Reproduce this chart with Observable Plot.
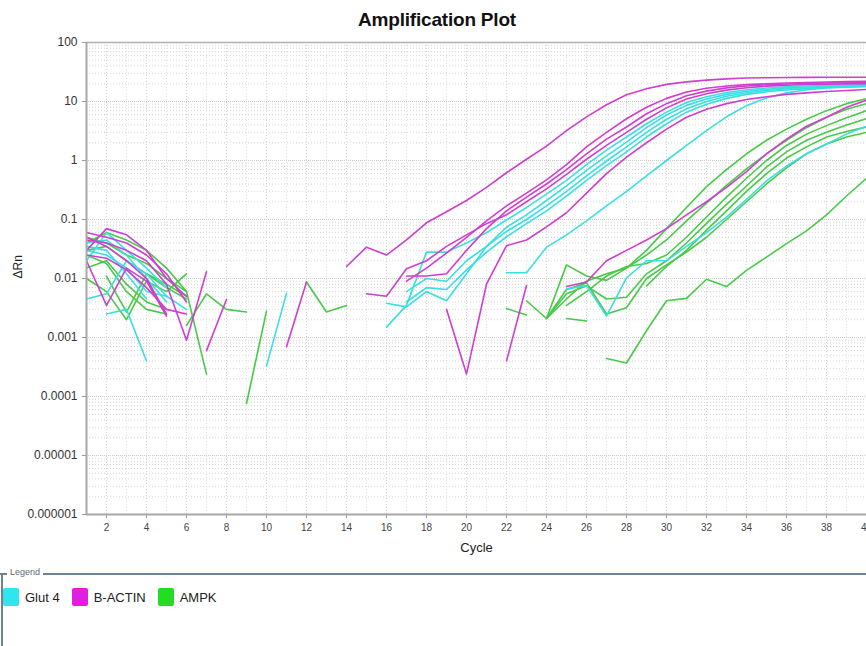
<!DOCTYPE html>
<html>
<head>
<meta charset="utf-8">
<script src="https://cdn.jsdelivr.net/npm/d3@7"></script>
<script src="https://cdn.jsdelivr.net/npm/@observablehq/plot@0.6"></script>
<style>
  html, body { margin: 0; padding: 0; background: #fff; }
  body { width: 866px; height: 646px; position: relative; overflow: hidden; font-family: "Liberation Sans", Arial, sans-serif; }
  #title { position: absolute; left: 0; top: 9px; width: 874px; text-align: center; font-weight: bold; font-size: 19px; color: #111; letter-spacing: -0.2px; }
  #chart { position: absolute; left: 0; top: 32px; }
  #legend-line { position: absolute; left: 0; top: 573px; width: 866px; height: 2px; background: #6f8292; }
  #legend-left { position: absolute; left: 1px; top: 573px; width: 2px; height: 73px; background: #6f8292; }
  #legend-title { position: absolute; left: 7px; top: 567px; font-size: 9px; color: #667; background: #fff; padding: 0 3px; }
  #legend-items { position: absolute; left: 3px; top: 588px; display: flex; align-items: center; font-size: 13px; color: #222; }
  .sw { width: 16px; height: 18px; border-radius: 2px; margin-right: 6px; }
  .lab { margin-right: 12px; }
</style>
</head>
<body>
<div id="title">Amplification Plot</div>
<div id="chart"></div>
<div id="legend-line"></div>
<div id="legend-left"></div>
<div id="legend-title">Legend</div>
<div id="legend-items"></div>
<script>
const _ = null;
const genes = ["Glut 4", "B-ACTIN", "AMPK"];
const geneColors = ["#3adfe2", "#d03ed0", "#48ca48"];
const swatchColors = ["#2fe6ee", "#e01ee0", "#22dd22"];
const yTickValues = [1e-6, 1e-5, 1e-4, 1e-3, 0.01, 0.1, 1, 10, 100];
const yTickLabels = ["0.000001", "0.00001", "0.0001", "0.001", "0.01", "0.1", "1", "10", "100"];
const xTickValues = [2,4,6,8,10,12,14,16,18,20,22,24,26,28,30,32,34,36,38,40];
const axisTitles = {x: "Cycle", y: "ΔRn"};

// ---- B-ACTIN wells (cycle 1..40) ----
const bactin1 = [0.06,0.05,0.04,0.025,0.012,0.004,_,_,_,_,
  _,_,_,0.016,0.034,0.025,0.045,0.088,0.135,0.21,
  0.35,0.62,1.05,1.75,3.2,5.5,8.8,13,16.5,19.5,
  21.5,23,24.2,25,25.3,25.5,25.6,25.7,25.8,25.8];
const bactin2 = [0.045,0.04,0.03,0.02,0.008,0.0009,0.013,_,_,_,
  _,_,_,_,_,_,0.009,0.015,0.027,0.05,
  0.095,0.17,0.28,0.47,0.85,1.7,3.0,5.1,8,11.3,
  14.5,16.8,18.3,19.3,20,20.6,21,21.4,21.7,22];
const bactin3 = [0.03,0.07,0.055,0.03,0.01,0.005,_,_,_,_,
  _,_,_,_,_,_,0.011,0.011,0.012,0.03,
  0.07,0.14,0.24,0.4,0.7,1.3,2.3,3.7,6.2,9.2,
  12.5,15,17,18.3,19.2,19.8,20.3,20.6,20.8,21];
const bactin4 = [0.025,0.022,0.014,0.007,0.003,0.0025,_,_,_,_,
  _,_,_,_,0.0055,0.005,0.0146,0.02,0.035,0.055,
  0.085,0.12,0.2,0.33,0.58,1.05,1.8,3.0,5,7.8,
  11,13.5,15.6,17.1,18.2,18.9,19.4,19.7,19.9,20];
const bactin5 = [0.05,0.035,0.02,0.01,0.0025,_,_,_,_,_,
  _,_,_,_,_,_,_,_,0.003,0.00024,
  0.008,0.036,0.045,0.075,0.13,0.28,0.6,1.14,2.0,3.4,
  5.4,7.4,9.2,10.8,12,13.2,14,14.8,15.4,16];
const bactin6 = [0.02,0.0035,0.015,0.009,0.0023,_,_,_,_,_,
  _,_,_,_,_,_,_,_,_,_,
  _,_,_,_,0.0073,0.0087,0.02,0.03,0.045,0.07,
  0.12,0.2,0.35,0.65,1.3,2.3,3.8,5.4,8,10.5];
const bactin7 = [_,_,_,_,_,_,0.0006,0.0044,_,_,
  0.0007,0.0087,_,_,_,_,_,_,_,_,
  _,0.0004,0.0076,_,_,_,_,_,_,_,
  _,_,_,_,_,_,_,_,_,_];

// ---- Glut 4 wells ----
const glut1 = [0.0045,0.0055,0.02,0.012,0.005,0.003,_,_,_,_,
  _,_,_,_,_,0.0015,0.0035,0.028,0.028,0.04,
  0.06,0.098,0.16,0.27,0.46,0.85,1.5,2.5,4.2,6.6,
  9.6,12,14.2,15.8,16.9,17.7,18.3,18.7,19,19.2];
const glut2 = [0.03,0.025,0.015,0.006,0.005,_,_,_,_,_,
  _,_,_,_,_,0.0038,0.0033,0.006,0.0042,0.012,
  0.035,0.074,0.12,0.21,0.37,0.68,1.2,2.05,3.6,5.9,
  8.6,11,13.2,14.9,16.1,17,17.6,18.1,18.4,18.7];
const glut3 = [_,0.0025,0.003,0.0004,_,_,_,_,_,0.00033,
  0.0056,_,_,_,_,_,0.006,0.01,0.009,0.02,
  0.035,0.063,0.1,0.17,0.3,0.55,0.98,1.7,3,5,
  7.5,10,12.3,14.1,15.4,16.4,17.1,17.6,18,18.3];
const glut4 = [0.02,0.06,0.03,0.015,0.007,_,_,_,_,_,
  _,_,_,_,_,_,0.004,0.007,0.0065,0.014,
  0.028,0.051,0.085,0.14,0.25,0.46,0.82,1.4,2.5,4.2,
  6.6,9,11.3,13.2,14.6,15.7,16.5,17.1,17.5,17.8];
const glut5 = [0.035,0.03,0.012,0.0045,_,_,_,_,_,_,
  _,_,_,_,_,_,_,_,_,_,
  _,0.0125,0.0125,0.034,0.055,0.095,0.17,0.3,0.55,1.0,
  1.8,3.2,5.5,8.5,11.5,14,15.8,17,17.8,18.3];
const glut6 = [0.04,0.045,0.025,0.01,0.004,_,_,_,_,_,
  _,_,_,_,_,_,_,_,_,_,
  _,_,_,_,0.0066,0.0076,0.0023,0.0102,0.02,0.02,
  0.035,0.06,0.11,0.22,0.45,0.8,1.3,1.9,2.8,3.8];

// ---- AMPK wells ----
const ampk1 = [0.04,0.06,0.045,0.03,0.015,0.006,0.00024,_,_,_,
  _,_,_,_,_,_,_,_,_,_,
  _,_,_,0.0021,0.017,0.011,0.0093,0.015,0.03,0.07,
  0.16,0.36,0.7,1.3,2.2,3.4,5.0,7.0,9.2,11.2];
const ampk2 = [0.01,0.006,0.002,0.009,0.006,0.012,_,_,_,_,
  _,_,_,_,_,_,_,_,_,_,
  _,_,_,0.0021,0.0045,0.009,0.012,0.015,0.025,0.045,
  0.095,0.19,0.38,0.72,1.3,2.2,3.6,5.4,7.4,9.2];
const ampk3 = [0.05,0.04,0.025,0.018,0.01,0.006,_,_,_,_,
  _,_,_,_,_,_,_,_,_,_,
  _,_,_,_,0.0035,0.006,0.011,0.016,0.018,0.025,
  0.05,0.11,0.24,0.5,1.0,1.8,2.8,3.9,5.3,7];
const ampk4 = [_,0.011,0.0027,0.012,0.008,0.005,_,_,_,_,
  _,_,_,_,_,_,_,_,_,_,
  _,_,_,0.0021,0.0055,0.0075,0.0045,0.0048,0.012,0.02,
  0.04,0.086,0.18,0.37,0.77,1.4,2.2,3.0,4.0,5.1];
const ampk5 = [0.03,0.035,0.02,0.012,0.007,0.0045,_,_,_,_,
  _,_,_,_,_,_,_,_,_,_,
  _,0.0031,0.0024,_,0.0021,0.0019,_,_,0.0075,0.016,
  0.03,0.066,0.14,0.3,0.6,1.1,1.7,2.5,3.1,3.7];
const ampk6 = [0.015,0.02,0.008,0.004,0.003,_,_,_,_,_,
  _,_,_,_,_,_,_,_,_,_,
  _,_,0.0042,0.0021,0.0065,0.0085,0.0025,0.0032,0.01,0.017,
  0.028,0.05,0.1,0.2,0.4,0.75,1.3,1.9,2.5,3.0];
const ampk7 = [0.025,0.018,0.006,0.003,0.0025,_,_,_,_,_,
  _,_,_,_,_,_,_,_,_,_,
  _,_,_,_,_,_,0.00044,0.00037,0.0013,0.0042,
  0.0046,0.0097,0.0073,0.0137,0.023,0.039,0.064,0.12,0.25,0.5];
const ampk8 = [_,_,_,_,_,0.0016,0.0055,0.003,0.0027,_,
  _,0.0087,0.0027,0.0035,_,_,_,_,_,_,
  _,_,_,_,_,_,_,_,_,_,
  _,_,_,_,_,_,_,_,_,_];
const ampk9 = [_,_,_,_,_,_,_,_,0.000076,0.0028,
  _,_,_,_,_,_,_,_,_,_,
  _,_,_,_,_,_,_,_,_,_,
  _,_,_,_,_,_,_,_,_,_];

const wells = [
  ["AMPK", [ampk1, ampk2, ampk3, ampk4, ampk5, ampk6, ampk7, ampk8, ampk9]],
  ["Glut 4", [glut1, glut2, glut3, glut4, glut5, glut6]],
  ["B-ACTIN", [bactin1, bactin2, bactin3, bactin4, bactin5, bactin6, bactin7]]
];

const rows = [];
wells.forEach(([gene, list]) => list.forEach((arr, w) => arr.forEach((v, i) => {
  rows.push({cycle: i + 1, value: v == null ? NaN : v, gene, well: gene + "-" + w});
})));

const minorY = [];
for (let e = -6; e < 2; e++) for (let k = 2; k <= 9; k++) minorY.push(k * Math.pow(10, e));
const cycles = d3.range(1, 41);

const plot = Plot.plot({
  width: 866,
  height: 526,
  marginLeft: 86,
  marginRight: 0,
  marginTop: 10,
  marginBottom: 44,
  style: {fontFamily: "'Liberation Sans', Arial, sans-serif", background: "#fff", overflow: "visible"},
  x: {domain: [1, 40]},
  y: {type: "log", domain: [1e-6, 100]},
  color: {domain: genes, range: geneColors},
  marks: [
    Plot.ruleY(minorY, {stroke: "#d6d6d6", strokeDasharray: "1,2", strokeWidth: 1}),
    Plot.ruleY(yTickValues, {stroke: "#cacaca", strokeDasharray: "1,1", strokeWidth: 1}),
    Plot.ruleX(cycles, {stroke: "#e0e0e0", strokeDasharray: "1,2", strokeWidth: 1}),
    Plot.ruleX(xTickValues, {stroke: "#d4d4d4", strokeDasharray: "1,2", strokeWidth: 1}),
    Plot.ruleY([100], {stroke: "#b0b0b0", strokeWidth: 1.5}),
    Plot.line(rows, {x: "cycle", y: "value", z: "well", stroke: "gene", strokeWidth: 1.6, clip: true}),
    Plot.axisY({ticks: yTickValues, tickFormat: (d) => yTickLabels[yTickValues.indexOf(d)], tickSize: 4, fontSize: 12, fill: "#333", stroke: "#999", label: null}),
    Plot.axisX({ticks: xTickValues, tickSize: 4, fontSize: 10, fill: "#444", stroke: "#999", label: null}),
    Plot.text([axisTitles.x], {frameAnchor: "bottom", dy: 37, fontSize: 13, fill: "#222"}),
    Plot.text([axisTitles.y], {frameAnchor: "left", dx: -68, rotate: -90, fontSize: 12, fill: "#222"}),
    Plot.ruleX([1], {stroke: "#a8a8a8", strokeWidth: 2}),
    Plot.ruleY([1e-6], {stroke: "#a8a8a8", strokeWidth: 2})
  ]
});
document.getElementById("chart").appendChild(plot);

const items = document.getElementById("legend-items");
genes.forEach((g, i) => {
  const s = document.createElement("div");
  s.className = "sw"; s.style.background = swatchColors[i];
  const t = document.createElement("span");
  t.className = "lab"; t.textContent = g;
  items.appendChild(s); items.appendChild(t);
});
</script>
</body>
</html>
